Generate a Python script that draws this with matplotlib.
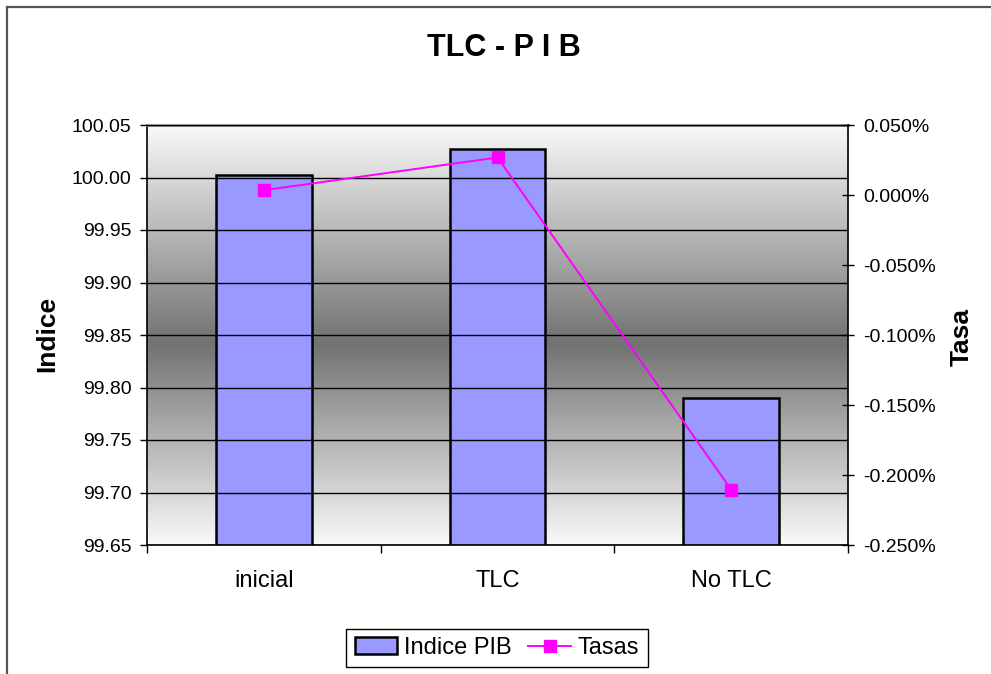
import numpy as np
import matplotlib
matplotlib.use("Agg")
import matplotlib.pyplot as plt
from matplotlib.lines import Line2D
from matplotlib.ticker import FuncFormatter, FixedLocator

plt.rcParams['font.family'] = ['Liberation Sans', 'DejaVu Sans']

# data
categories = ['inicial', 'TLC', 'No TLC']
indice_pib = [100.002, 100.027, 99.79]
tasas = [0.0034, 0.0268, -0.2104]  # in percent
left_ticks = [99.65, 99.70, 99.75, 99.80, 99.85, 99.90, 99.95, 100.00, 100.05]
right_ticks = [-0.25, -0.20, -0.15, -0.10, -0.05, 0.0, 0.05]

fig = plt.figure(figsize=(9.91, 6.74), dpi=100)
ax = fig.add_axes([147 / 991, 1 - 545 / 674, 701 / 991, 420 / 674])

x = np.arange(len(categories))

# gray gradient background, dark in the middle
grad = np.concatenate([np.linspace(0.97, 0.45, 52), np.linspace(0.45, 0.97, 48)]).reshape(-1, 1)
ax.imshow(grad, cmap='gray', vmin=0, vmax=1, aspect='auto', extent=[0, 1, 0, 1],
          transform=ax.transAxes, zorder=0, interpolation='bilinear')

ax.set_xlim(-0.5, 2.5)
ax.set_ylim(99.65, 100.05)
ax.set_yticks(left_ticks)
ax.yaxis.set_major_formatter(FuncFormatter(lambda v, p: f'{v:.2f}'))
ax.grid(axis='y', color='black', linewidth=1, zorder=1)
ax.set_axisbelow(False)
for gl in ax.get_ygridlines():
    gl.set_zorder(1)

bars = ax.bar(x, indice_pib, width=0.41, bottom=0, color='#9999FF',
              edgecolor='black', linewidth=1.8, zorder=2, label='Indice PIB')
ax.set_ylim(99.65, 100.05)

# category ticks between groups, labels centered
ax.xaxis.set_major_locator(FixedLocator([-0.5, 0.5, 1.5, 2.5]))
ax.xaxis.set_minor_locator(FixedLocator(list(x)))
ax.set_xticklabels([])
ax.set_xticklabels(categories, minor=True)
ax.tick_params(axis='x', which='major', direction='out', length=6, width=1)
ax.tick_params(axis='x', which='minor', length=0, pad=18, labelsize=17)
ax.tick_params(axis='y', direction='out', length=5, width=1, pad=6, labelsize=14)

ax.spines['top'].set_color('#888888')
ax.spines['top'].set_linewidth(2)
ax.spines['left'].set_linewidth(1.2)
ax.spines['bottom'].set_linewidth(1.2)
ax.spines['right'].set_visible(False)

ax2 = ax.twinx()
line, = ax2.plot(x, tasas, color='#FF00FF', linewidth=1.4, marker='s',
                 markersize=8, label='Tasas', zorder=3)
ax2.set_ylim(-0.25, 0.05)
ax2.set_yticks(right_ticks)
ax2.yaxis.set_major_formatter(FuncFormatter(lambda v, p: f'{v:.3f}%'))
ax2.tick_params(axis='y', direction='inout', length=8, width=1, pad=7, labelsize=14)
ax2.spines['right'].set_linewidth(1.2)
ax2.spines['top'].set_visible(False)
ax2.spines['left'].set_visible(False)
ax2.spines['bottom'].set_visible(False)

fig.text(504 / 991, 1 - 48 / 674, 'TLC - P I B', ha='center', va='center',
         fontsize=22, fontweight='bold')
fig.text(47 / 991, 1 - 334 / 674, 'Indice', ha='center', va='center',
         rotation=90, fontsize=19, fontweight='bold')
fig.text(962 / 991, 1 - 337 / 674, 'Tasa', ha='center', va='center',
         rotation=90, fontsize=19, fontweight='bold')

leg = fig.legend([bars, line], ['Indice PIB', 'Tasas'], loc='center',
                 bbox_to_anchor=(497 / 991, 1 - 648 / 674), ncol=2, fontsize=17,
                 frameon=True, fancybox=False, edgecolor='black', framealpha=1,
                 handlelength=1.8, handletextpad=0.3, columnspacing=0.7,
                 borderpad=0.35, borderaxespad=0)
leg.get_frame().set_linewidth(1)

# chart-area border (top and left visible in the reference)
fig.add_artist(Line2D([7 / 991, 7 / 991], [0, 1 - 6.5 / 674], transform=fig.transFigure,
                      color='#555555', linewidth=1.6))
fig.add_artist(Line2D([7 / 991, 1], [1 - 6.5 / 674, 1 - 6.5 / 674], transform=fig.transFigure,
                      color='#555555', linewidth=1.6))

fig.savefig('out.png', dpi=100)
